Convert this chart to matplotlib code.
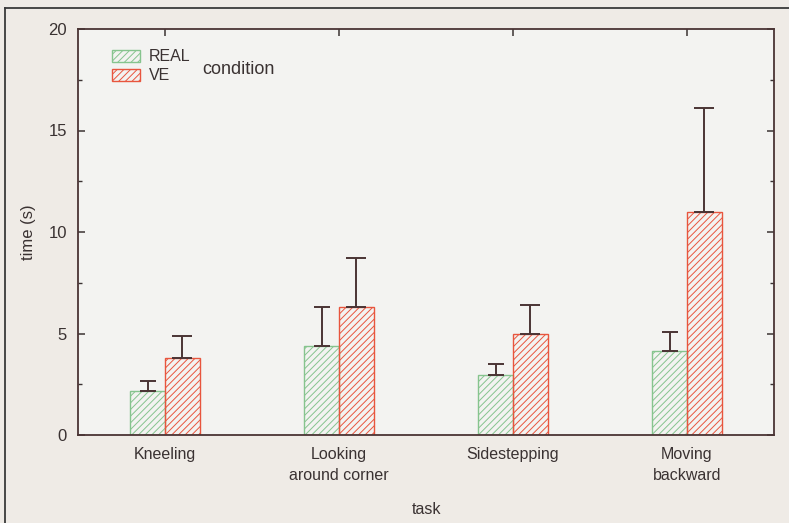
import numpy as np
from matplotlib import pyplot as plt
from matplotlib.patches import Patch
from matplotlib.lines import Line2D

plt.rcParams.update({'font.family': ['Liberation Sans', 'DejaVu Sans'],
                     'font.size': 12,
                     'text.color': '#3a3232',
                     'axes.labelcolor': '#3a3232',
                     'xtick.color': '#3a3232',
                     'ytick.color': '#3a3232',
                     'hatch.linewidth': 0.7})

tasks = ['Kneeling', 'Looking\naround corner', 'Sidestepping', 'Moving\nbackward']
real_mean = [2.15, 4.4, 2.95, 4.15]
real_err = [0.5, 1.9, 0.55, 0.9]
ve_mean = [3.8, 6.3, 5.0, 11.0]
ve_err = [1.1, 2.4, 1.4, 5.1]

green = '#86c48e'
red = '#e8553e'
ink = '#4a3434'

fig = plt.figure(figsize=(7.89, 5.23), dpi=100, facecolor='#efebe6')
ax = fig.add_axes([78 / 789, 1 - 435 / 523, (774 - 78) / 789, (435 - 29) / 523])
ax.set_facecolor('#f3f3f1')

x = np.arange(len(tasks))
w = 0.2
ax.bar(x - w / 2, real_mean, w, color='none', edgecolor=green, hatch='/////', linewidth=1.0)
ax.bar(x + w / 2, ve_mean, w, color='none', edgecolor=red, hatch='/////', linewidth=1.0)
ax.errorbar(x - w / 2, real_mean, yerr=[np.zeros(4), real_err], fmt='none',
            ecolor=ink, elinewidth=1.4, capsize=6, capthick=1.4)
ax.errorbar(x + w / 2, ve_mean, yerr=[np.zeros(4), ve_err], fmt='none',
            ecolor=ink, elinewidth=1.4, capsize=7, capthick=1.4)

ax.set_xlim(-0.5, 3.5)
ax.set_ylim(0, 20)
ax.set_yticks([0, 5, 10, 15, 20])
ax.set_yticks(np.arange(0, 20, 2.5), minor=True)
ax.set_xticks(x)
ax.set_xticklabels(tasks, linespacing=1.45)
ax.tick_params(axis='y', which='both', direction='in', right=True, labelsize=12, pad=8)
ax.tick_params(axis='y', which='major', length=5, width=1.1)
ax.tick_params(axis='y', which='minor', length=3, width=1.0)
ax.tick_params(axis='x', which='major', direction='in', top=True, bottom=False,
               length=5, width=1.1, labelsize=11.5, pad=9)
for s in ax.spines.values():
    s.set_color(ink)
    s.set_linewidth(1.3)

ax.set_ylabel('time (s)', labelpad=9)
ax.set_xlabel('task', labelpad=14, fontsize=11.5)

handles = [Patch(facecolor='none', edgecolor=green, hatch='/////', label='REAL'),
           Patch(facecolor='none', edgecolor=red, hatch='/////', label='VE')]
ax.legend(handles=handles, loc='upper left', bbox_to_anchor=(0.049, 0.95),
          frameon=False, borderpad=0, handlelength=1.75, handleheight=0.75,
          handletextpad=0.55, labelspacing=0.25, borderaxespad=0, fontsize=11.5)
ax.text(0.178, 0.9, 'condition', transform=ax.transAxes, fontsize=13, va='center')

# outer frame around the figure
fig.add_artist(Line2D([5 / 789, 5 / 789], [0, 1 - 8 / 523], transform=fig.transFigure,
                      color='#3a3a3a', lw=1.3))
fig.add_artist(Line2D([5 / 789, 1], [1 - 8 / 523, 1 - 8 / 523], transform=fig.transFigure,
                      color='#3a3a3a', lw=1.3))

fig.savefig('out.png', dpi=100, facecolor=fig.get_facecolor())
